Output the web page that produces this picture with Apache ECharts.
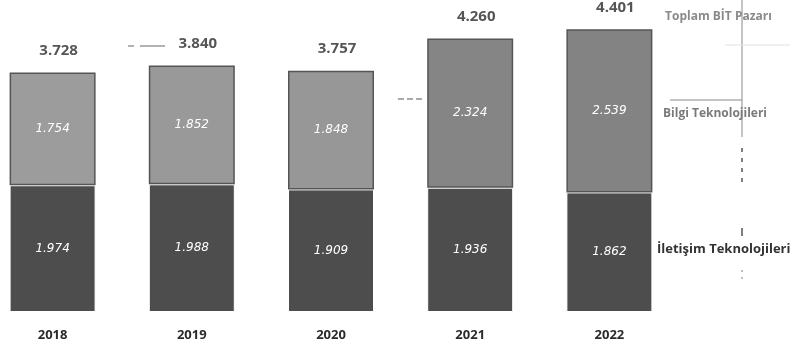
<!DOCTYPE html>
<html>
<head>
<meta charset="utf-8">
<script src="https://cdn.jsdelivr.net/npm/echarts@6/dist/echarts.min.js"></script>
<style>
html,body{margin:0;padding:0;background:#fff;}
#c{width:801px;height:353px;}
</style>
</head>
<body>
<div id="c"></div>
<script>
// Data
var years = ['2018', '2019', '2020', '2021', '2022'];
var iletisim = [1974, 1988, 1909, 1936, 1862];   // İletişim Teknolojileri
var bilgi = [1754, 1852, 1848, 2324, 2539];      // Bilgi Teknolojileri
var toplam = [3728, 3840, 3757, 4260, 4401];     // Toplam BİT Pazarı
var seriesNames = ['İletişim Teknolojileri', 'Bilgi Teknolojileri', 'Toplam BİT Pazarı'];

// Styles
var topColors = ['#9c9c9c', '#999999', '#979797', '#858585', '#838383'];

function fmt(v) {
  var s = String(Math.round(v));
  return s.replace(/\B(?=(\d{3})+(?!\d))/g, '.');
}

var chart = echarts.init(document.getElementById('c'));
var inLabel = {
  show: true, position: 'inside', color: '#ffffff', fontStyle: 'italic',
  fontFamily: 'DejaVu Sans', fontSize: 12,
  formatter: function (p) { return fmt(p.value); }
};
chart.setOption({
  animation: false,
  backgroundColor: '#ffffff',
  grid: { left: -17, width: 696, top: 23, bottom: 41, outerBoundsMode: 'none', containLabel: false },
  xAxis: {
    type: 'category', data: years,
    axisLine: { show: false }, axisTick: { show: false },
    axisLabel: { margin: 17, color: '#2b2b2b', fontWeight: 'bold', fontSize: 13, fontFamily: 'Open Sans' }
  },
  yAxis: { type: 'value', min: 0, max: 4500, show: false, splitLine: { show: false } },
  series: [
    {
      name: seriesNames[0], type: 'bar', stack: 't', barWidth: 86,
      data: iletisim,
      itemStyle: { color: '#4d4d4d', borderColor: '#ffffff', borderWidth: 1 },
      label: inLabel
    },
    {
      name: seriesNames[1], type: 'bar', stack: 't', barWidth: 86,
      data: bilgi.map(function (v, i) { return { value: v, itemStyle: { color: topColors[i] } }; }),
      itemStyle: { borderColor: '#555555', borderWidth: 1.5 },
      label: inLabel
    },
    {
      name: seriesNames[2], type: 'scatter', symbolSize: 0,
      data: toplam,
      label: {
        show: true, position: 'top', distance: 14, offset: [6, 0],
        color: '#2b2b2b', fontWeight: 'bold', fontSize: 15, fontFamily: 'Open Sans',
        formatter: function (p) { return fmt(p.value); }
      },
      z: 5
    }
  ],
  graphic: [
    { type: 'line', shape: { x1: 742, y1: 0, x2: 742, y2: 137 }, style: { stroke: '#8a8a8a', lineWidth: 1 } },
    { type: 'line', shape: { x1: 742, y1: 148, x2: 742, y2: 188 }, style: { stroke: '#555', lineWidth: 1.5, lineDash: [4, 6] } },
    { type: 'line', shape: { x1: 742, y1: 228, x2: 742, y2: 236 }, style: { stroke: '#555', lineWidth: 1.5 } },
    { type: 'line', shape: { x1: 742, y1: 270, x2: 742, y2: 280 }, style: { stroke: '#aaa', lineWidth: 1.5, lineDash: [2, 5] } },
    { type: 'line', shape: { x1: 670, y1: 100, x2: 742, y2: 100 }, style: { stroke: '#8a8a8a', lineWidth: 1 } },
    { type: 'line', shape: { x1: 725, y1: 45, x2: 790, y2: 45 }, style: { stroke: '#e2e2e2', lineWidth: 1 } },
    { type: 'line', shape: { x1: 128, y1: 46, x2: 134, y2: 46 }, style: { stroke: '#666', lineWidth: 1 } },
    { type: 'line', shape: { x1: 140, y1: 46, x2: 165, y2: 46 }, style: { stroke: '#666', lineWidth: 1 } },
    { type: 'line', shape: { x1: 398, y1: 99, x2: 423, y2: 99 }, style: { stroke: '#555', lineWidth: 1, lineDash: [6, 3] } },
    { type: 'text', left: 665, top: 11, style: { text: seriesNames[2], fill: '#8a8a8a', font: 'bold 12px "Open Sans"' } },
    { type: 'text', left: 663, top: 108, style: { text: seriesNames[1], fill: '#7a7a7a', font: 'bold 12px "Open Sans"' } },
    { type: 'text', left: 657, top: 243, style: { text: seriesNames[0], fill: '#333333', font: 'bold 13px "Open Sans"' } }
  ]
});
</script>
</body>
</html>
